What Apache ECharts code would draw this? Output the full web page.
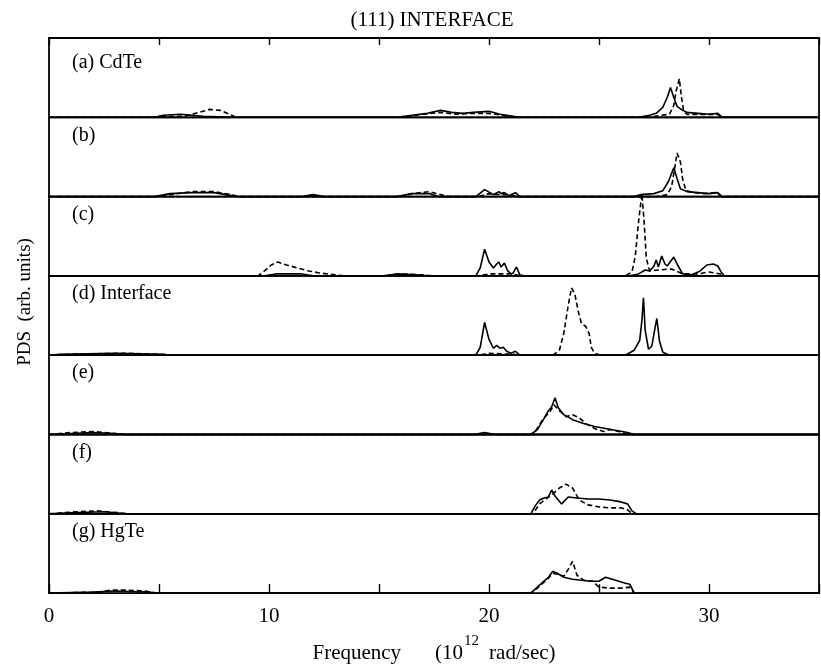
<!DOCTYPE html>
<html>
<head>
<meta charset="utf-8">
<title>(111) INTERFACE</title>
<script src="https://cdn.jsdelivr.net/npm/echarts@6.0.0/dist/echarts.min.js"></script>
<style>
  html, body { margin: 0; padding: 0; background: #fff; }
  #chart { width: 821px; height: 672px; }
</style>
</head>
<body>
<div id="chart"></div>
<script>
// 各面板标签
const panelLabels = ['(a) CdTe', '(b)', '(c)', '(d) Interface', '(e)', '(f)', '(g) HgTe'];

// 横轴刻度 (10^12 rad/sec)
const xTicks = [0, 5, 10, 15, 20, 25, 30, 35];
const xLabels = [0, 10, 20, 30];

// (a) CdTe
const solidA = [[0,0],[4.8,0],[5.2,2],[6.0,3],[6.5,2],[7.0,1],[8.3,0],[15.8,0],[16.5,2],[17.2,4],[17.8,7],[18.3,5],[18.8,4],[19.3,5],[20.0,6],[20.5,3],[21.1,1],[21.3,0],[26.8,0],[27.3,2],[27.6,4],[27.9,10],[28.1,20],[28.25,30],[28.4,20],[28.55,11],[28.8,7],[29.0,5],[29.5,4],[30.0,3],[30.4,4],[30.6,0],[35,0]];
const dashedA = [[0,0],[5.0,0],[5.2,1],[6.0,1],[6.5,3],[7.0,6],[7.3,8],[7.8,7],[8.2,3],[8.5,0],[16,0],[17,3],[17.8,5],[18.5,3],[19.3,4],[20.0,4],[20.6,2],[21.1,0],[27.3,0],[27.8,2],[28.2,3],[28.4,12],[28.5,26],[28.65,39],[28.75,20],[28.85,6],[29.0,3],[29.8,3],[30.4,3],[30.6,0],[35,0]];

// (b)
const solidB = [[0,0],[4.8,0],[5.5,3],[6.5,4],[7.5,4],[8.3,1],[8.6,0],[11.5,0],[12,2],[12.5,0],[15.8,0],[16.5,3],[17.3,3],[17.7,0],[19.4,0],[19.8,7],[20.2,2],[20.45,5],[20.55,3],[20.7,4],[20.9,1],[21.2,4],[21.4,0],[26.6,0],[26.9,2],[27.5,3],[27.9,6],[28.15,15],[28.4,29],[28.55,18],[28.7,8],[29.0,5],[29.5,4],[30.0,3],[30.4,4],[30.6,0],[35,0]];
const dashedB = [[0,0],[4.8,0],[5.5,2],[6.5,5],[7.5,5],[8.3,2],[8.6,0],[16,0],[16.5,3],[17.3,5],[17.8,2],[18.2,0],[19.5,0],[20,3],[20.5,2],[21.0,2],[21.3,0],[27.6,0],[28.1,2],[28.3,10],[28.45,30],[28.55,44],[28.7,35],[28.8,18],[28.95,6],[29.3,4],[29.8,3],[30.3,4],[30.6,0],[35,0]];

// (c)
const solidC = [[0,0],[9.8,0],[10.3,2],[11.5,2],[12,0],[15.2,0],[15.8,2],[16.7,1],[17.2,0],[19.4,0],[19.6,8],[19.8,27],[20.0,14],[20.2,8],[20.35,12],[20.45,14],[20.55,9],[20.7,13],[20.85,5],[21.0,2],[21.1,3],[21.25,9],[21.4,1],[21.6,0],[26.4,0],[26.8,2],[27.1,6],[27.3,5],[27.5,10],[27.6,16],[27.7,9],[27.85,20],[28.0,12],[28.1,10],[28.4,19],[28.55,12],[28.8,2],[29.2,1],[29.6,5],[29.9,11],[30.2,12],[30.4,10],[30.55,4],[30.7,0],[35,0]];
const dashedC = [[0,0],[9.5,0],[9.8,5],[10.1,11],[10.4,14],[10.8,11],[11.3,8],[11.8,5],[12.3,3],[13,1],[13.5,0],[15.2,0],[16,2],[17,1],[17.5,0],[19.5,0],[20,2],[21,2],[21.5,0],[26.2,0],[26.5,4],[26.65,20],[26.8,55],[26.95,83],[27.05,55],[27.15,18],[27.3,5],[27.7,6],[28.3,7],[28.8,2],[29.5,2],[30.0,4],[30.5,2],[30.7,0],[35,0]];

// (d) Interface
const solidD = [[0,0],[0.5,1],[3,2],[5.2,1],[5.5,0],[19.4,0],[19.6,8],[19.8,33],[20.0,16],[20.2,7],[20.35,10],[20.5,7],[20.65,8],[20.8,4],[21.0,2],[21.2,4],[21.4,0],[26.2,0],[26.6,5],[26.85,15],[26.95,35],[27.02,58],[27.1,25],[27.25,6],[27.4,9],[27.55,28],[27.63,37],[27.75,14],[27.9,3],[28.2,0],[35,0]];
const dashedD = [[0,0],[1,1],[3.5,2],[5,1],[5.5,0],[19.5,0],[20,2],[21,1],[21.5,0],[22.9,0],[23.2,5],[23.4,22],[23.6,50],[23.75,68],[23.9,62],[24.05,45],[24.2,32],[24.4,29],[24.55,22],[24.65,8],[24.8,2],[25.1,0],[35,0]];

// (e)
const solidE = [[0,0],[1,1],[2,2],[3,1],[3.5,0],[19.3,0],[19.8,2],[20.3,0],[21.9,0],[22.2,5],[22.5,16],[22.7,24],[22.85,28],[23.0,37],[23.15,27],[23.4,20],[23.8,15],[24.3,11],[24.8,8],[25.3,6],[25.8,4],[26.3,2],[26.6,0],[35,0]];
const dashedE = [[0,0],[1,2],[2,3],[3,1],[3.5,0],[21.9,0],[22.1,3],[22.3,10],[22.5,17],[22.75,22],[22.95,30],[23.2,24],[23.5,18],[23.8,20],[24.1,17],[24.4,11],[24.8,6],[25.2,3],[25.5,5],[25.9,3],[26.3,0],[35,0]];

// (f)
const solidF = [[0,0],[1,1],[2.5,2],[3.5,0],[21.9,0],[22.1,8],[22.3,14],[22.5,16],[22.7,17],[22.85,24],[23.0,18],[23.3,10],[23.6,17],[24.0,16],[24.5,15],[25.0,15],[25.5,14],[26.0,12],[26.3,10],[26.5,3],[26.7,0],[35,0]];
const dashedF = [[0,0],[1.2,2],[2.2,3],[3.2,1],[3.6,0],[22.0,0],[22.3,10],[22.6,15],[22.9,20],[23.2,26],[23.5,30],[23.8,26],[24.1,14],[24.5,9],[25.0,7],[25.5,6],[26.0,6],[26.3,4],[26.5,0],[35,0]];

// (g) HgTe
const solidG = [[0,0],[2,1],[3,2],[4.5,1],[5,0],[21.9,0],[22.2,6],[22.5,12],[22.7,16],[22.9,22],[23.1,20],[23.4,16],[23.8,14],[24.2,13],[24.6,12],[25.0,12],[25.3,16],[25.6,14],[25.9,12],[26.2,10],[26.4,9],[26.6,0],[35,0]];
const dashedG = [[0,0],[2.3,1],[2.8,3],[3.5,3],[4.4,2],[4.8,0],[21.9,0],[22.2,5],[22.5,11],[22.7,15],[22.9,20],[23.1,19],[23.4,17],[23.6,24],[23.8,32],[24.0,18],[24.3,13],[24.7,12],[25.0,6],[25.5,5],[26.0,5],[26.4,6],[26.6,0],[35,0]];

const solidSets = [solidA, solidB, solidC, solidD, solidE, solidF, solidG];
const dashedSets = [dashedA, dashedB, dashedC, dashedD, dashedE, dashedF, dashedG];

const FONT = 'Liberation Serif';
const plotLeft = 49, plotWidth = 770, plotTop = 38, panelH = 79.3;
const n = panelLabels.length;

const grids = [], xAxes = [], yAxes = [], series = [], graphics = [];

for (let i = 0; i < n; i++) {
    grids.push({
        left: plotLeft, width: plotWidth,
        top: plotTop + i * panelH, height: panelH,
        outerBoundsMode: 'none', containLabel: false,
        show: true, borderColor: '#000', borderWidth: 1.8
    });
    const isLast = i === n - 1;
    xAxes.push({
        gridIndex: i, type: 'value', min: 0, max: 35, interval: 5,
        axisLine: { show: false },
        axisTick: { show: isLast, inside: true, length: 9, lineStyle: { color: '#000', width: 1.4 } },
        splitLine: { show: false },
        axisLabel: {
            show: isLast, margin: 13,
            color: '#000', fontFamily: FONT, fontSize: 21,
            formatter: v => xLabels.includes(v) ? String(v) : ''
        },
        name: isLast ? '{f|Frequency}{n|(10}{s|12}{r|rad/sec)}' : '',
        nameLocation: 'middle', nameGap: 40,
        nameTextStyle: {
            rich: {
                f: { fontFamily: FONT, fontSize: 21, color: '#000', lineHeight: 40, padding: [0, 34, 0, 0] },
                n: { fontFamily: FONT, fontSize: 21, color: '#000', lineHeight: 40 },
                s: { fontFamily: FONT, fontSize: 15, color: '#000', lineHeight: 10, verticalAlign: 'top', padding: [0, 10, 0, 1] },
                r: { fontFamily: FONT, fontSize: 21, color: '#000', lineHeight: 40 }
            }
        }
    });
    yAxes.push({ gridIndex: i, type: 'value', min: 0, max: 80, show: false });

    series.push({
        type: 'line', xAxisIndex: i, yAxisIndex: i, data: solidSets[i],
        showSymbol: false, clip: false, silent: true,
        lineStyle: { color: '#000', width: 1.6 }
    });
    series.push({
        type: 'line', xAxisIndex: i, yAxisIndex: i, data: dashedSets[i],
        showSymbol: false, clip: false, silent: true,
        lineStyle: { color: '#000', width: 1.6, type: [5, 3] }
    });

    graphics.push({
        type: 'text', x: 72, y: plotTop + i * panelH + (i === 0 ? 25 : 18),
        style: { text: panelLabels[i], font: '20px "' + FONT + '"', fill: '#000', verticalAlign: 'middle' }
    });
}

// 顶部内刻度
xAxes.push({
    gridIndex: 0, type: 'value', min: 0, max: 35, interval: 5, position: 'top',
    axisLine: { show: false },
    axisTick: { show: true, inside: true, length: 7, lineStyle: { color: '#000', width: 1.4 } },
    axisLabel: { show: false }, splitLine: { show: false }
});

// 纵轴名称
graphics.push({
    type: 'text', x: 25, y: 302, rotation: Math.PI / 2,
    style: {
        text: 'PDS  (arb. units)', font: '19px "' + FONT + '"', fill: '#000',
        align: 'center', verticalAlign: 'middle'
    }
});

const chart = echarts.init(document.getElementById('chart'));
chart.setOption({
    animation: false,
    backgroundColor: '#fff',
    title: {
        text: '(111) INTERFACE', left: 427, top: 5, textAlign: 'center',
        textStyle: { fontFamily: FONT, fontSize: 21, fontWeight: 'normal', color: '#000' }
    },
    grid: grids,
    xAxis: xAxes,
    yAxis: yAxes,
    series: series,
    graphic: graphics
});
</script>
</body>
</html>
